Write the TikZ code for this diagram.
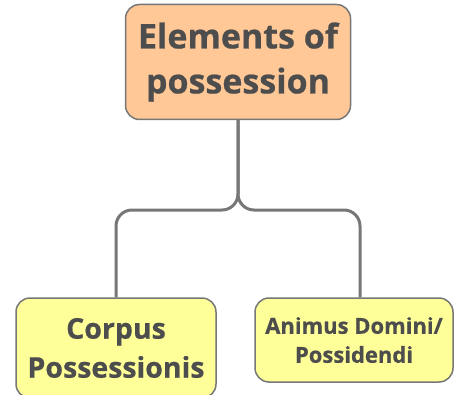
\documentclass[tikz,border=0pt]{standalone}
\usepackage{fontspec}
\setmainfont{Open Sans}[BoldFeatures={FakeBold=0.6}]
\definecolor{rootfill}{HTML}{FFC896}
\definecolor{leaffill}{HTML}{FFFF99}
\definecolor{edgegray}{HTML}{777777}
\definecolor{textgray}{HTML}{4D4D4D}
\tikzset{
  box/.style={draw=edgegray, line width=1.5pt, rounded corners=14pt, align=center,
    text=textgray, inner sep=0pt},
  rootbox/.style={box, fill=rootfill, minimum width=225pt, minimum height=115pt,
    font=\bfseries\fontsize{34}{45}\selectfont},
  leafbox/.style={box, fill=leaffill, minimum width=200pt},
  link/.style={draw=edgegray, line width=3pt, rounded corners=16pt}
}
\begin{document}
\begin{tikzpicture}[x=1pt,y=-1pt]
\useasboundingbox (0,0) rectangle (454,395);
\node[rootbox] (root) at (238,62) {Elements of\\possession};
\node[leafbox, minimum height=100pt, font=\bfseries\fontsize{28.5}{39}\selectfont] (corpus) at (116,348) {Corpus\\Possessionis};
\node[leafbox, minimum width=198pt, minimum height=84pt, font=\bfseries\fontsize{22}{29}\selectfont] (animus) at (354,340) {Animus Domini/\\Possidendi};
\coordinate (fork) at (root.south |- 0,210);
\coordinate (animusin) at ([xshift=6pt]animus.north);
\draw[link] (root.south) -- (fork) -- (corpus.north |- fork) -- (corpus.north);
\draw[link] (root.south) -- (fork) -- (animusin |- fork) -- (animusin);
\end{tikzpicture}
\end{document}
